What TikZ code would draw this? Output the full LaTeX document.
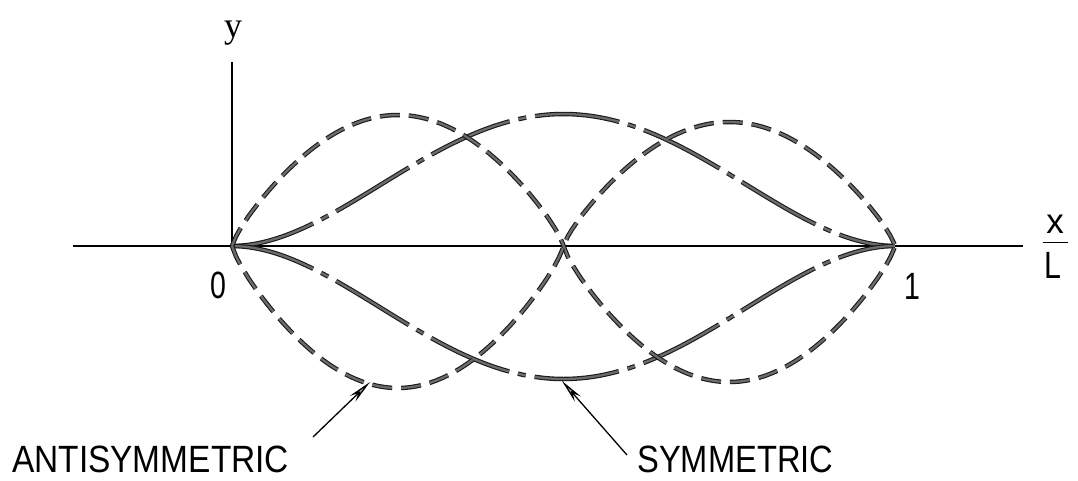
\documentclass[tikz,border=0pt]{standalone}
\usepackage{fontspec}
\usepackage{graphicx}
\setsansfont{Liberation Sans}
\newfontfamily\yfont{Liberation Serif}
\usetikzlibrary{arrows.meta}
\tikzset{
  axisline/.style={line width=2.6pt, black},
  curvebase/.style={draw=black!90, line width=1.1pt, double=gray!85!black, double distance=2.3pt},
  antimode/.style={curvebase, dash pattern=on 20pt off 9pt},
  symmode/.style={curvebase, dash pattern=on 85pt off 9pt on 8pt off 9pt},
  lab/.style={font=\fontsize{38}{40}\selectfont\sffamily, inner sep=0pt},
  pointer/.style={line width=1.3pt, black, -{Stealth[length=24pt, width=8pt, fill=gray!60]}},
  declare function={
    beamh(\s)=(cosh(4.73004*\s)-cos(deg(4.73004*\s))-0.982502*(sinh(4.73004*\s)-sin(deg(4.73004*\s))))/1.58815;
    beam(\t)=beamh(min(\t,1-\t));
    anti(\t)=pow(abs(sin(360*\t))+0.00001,0.8);
  }
}
\begin{document}
\begin{tikzpicture}[x=1pt, y=-1pt]
\useasboundingbox (0,0) rectangle (1078,480);
% axes
\coordinate (O) at (232,246);
\coordinate (xl) at (73,246);
\coordinate (xr) at (1023,246);
\coordinate (yt) at (232,62);
\draw[axisline] (xl) -- (xr);
\draw[axisline] (O) -- (yt);
% symmetric mode (dash-dot)
\draw[symmode] plot[domain=0:1, samples=121] ({232+663*\x},{246-132*beam(\x)});
\draw[symmode] plot[domain=0:1, samples=121] ({232+663*\x},{246+133*beam(\x)});
% antisymmetric mode (dashed)
\draw[antimode] plot[domain=0:0.5, samples=81] ({232+663*\x},{246-131*anti(\x)})
   -- plot[domain=0.5:1, samples=81] ({232+663*\x},{246+136*anti(\x)});
\draw[antimode] plot[domain=0:0.5, samples=81] ({232+663*\x},{246+142*anti(\x)})
   -- plot[domain=0.5:1, samples=81] ({232+663*\x},{246-124*anti(\x)});
% labels
\node[lab, font=\fontsize{36}{38}\selectfont\yfont, anchor=base] (ylab) at (233,37) {y};
\node[lab, anchor=base] (zero) at (218,298) {\scalebox{0.75}[1]{0}};
\node[lab, anchor=base] (one) at (912,299) {\scalebox{0.75}[1]{1}};
\node[lab, font=\fontsize{35}{37}\selectfont\sffamily, anchor=base] (xlab) at (1055,233) {x};
\node[lab, anchor=base] (Llab) at (1053,278) {\scalebox{0.8}[1]{L}};
\coordinate (barl) at (1043,242.5);
\coordinate (barr) at (1068,242.5);
\draw[line width=1.6pt] (barl) -- (barr);
\node[lab, anchor=base west] (anti) at (12,472) {\scalebox{0.88}[1]{ANTISYMMETRIC}};
\node[lab, anchor=base west] (sym) at (637,472) {\scalebox{0.86}[1]{SYMMETRIC}};
% pointers
\coordinate (atail) at (313,437);
\coordinate (atip) at (370,382);
\coordinate (stail) at (627,455);
\coordinate (stip) at (562,381);
\draw[pointer] (atail) -- (atip);
\draw[pointer] (stail) -- (stip);
\end{tikzpicture}
\end{document}
